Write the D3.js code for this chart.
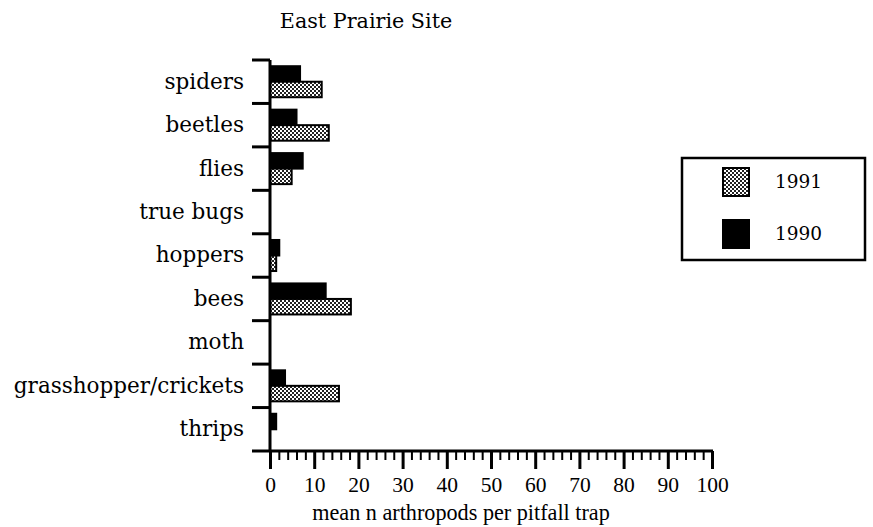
<!DOCTYPE html>
<html>
<head>
<meta charset="utf-8">
<script src="https://cdn.jsdelivr.net/npm/d3@7"></script>
<style>
  html, body { margin: 0; padding: 0; background: #fff; }
  svg { display: block; }
  text { font-family: "DejaVu Serif", "Liberation Serif", serif; fill: #000; }
</style>
</head>
<body>
<script>
// ---- data ----
const categories = ["spiders", "beetles", "flies", "true bugs", "hoppers", "bees", "moth", "grasshopper/crickets", "thrips"];
const seriesNames = ["1990", "1991"];
const values1990 = [6.8, 6.0, 7.4, 0, 2.1, 12.6, 0, 3.4, 1.4];
const values1991 = [11.7, 13.3, 4.9, 0, 1.4, 18.3, 0, 15.6, 0];
const majorTicks = [0, 10, 20, 30, 40, 50, 60, 70, 80, 90, 100];
const legendOrder = ["1991", "1990"];
const titleText = "East Prairie Site";
const xTitle = "mean n arthropods per pitfall trap";

const W = 873, H = 527;
const svg = d3.select("body").append("svg").attr("width", W).attr("height", H);

const defs = svg.append("defs");
const pat = defs.append("pattern").attr("id", "stipple")
  .attr("patternUnits", "userSpaceOnUse").attr("width", 4).attr("height", 4);
pat.append("rect").attr("width", 4).attr("height", 4).attr("fill", "#fff");
pat.append("rect").attr("x", 0).attr("y", 0).attr("width", 2).attr("height", 2).attr("fill", "#222");
pat.append("rect").attr("x", 2).attr("y", 2).attr("width", 2).attr("height", 2).attr("fill", "#222");

const fillFor = s => s === "1991" ? "url(#stipple)" : "#000";

const x = d3.scaleLinear().domain([0, 100]).range([270, 712]);
const y = d3.scaleBand().domain(categories).range([60, 451]).padding(0);
const ySub = d3.scaleBand().domain(seriesNames).range([0, y.bandwidth()]).paddingInner(0).paddingOuter(0.4);

// title
svg.append("text").attr("x", 366).attr("y", 28).attr("text-anchor", "middle")
  .style("font-size", "20.7px").text(titleText);

// bars
const rows = categories.map((c, i) => ({ c, v: { "1990": values1990[i], "1991": values1991[i] } }));
const g = svg.append("g");
rows.forEach(r => {
  seriesNames.forEach(s => {
    const v = r.v[s];
    if (v > 0) {
      g.append("rect")
        .attr("x", x(0))
        .attr("y", y(r.c) + ySub(s))
        .attr("width", x(v) - x(0))
        .attr("height", ySub.bandwidth())
        .attr("fill", fillFor(s))
        .attr("stroke", "#000").attr("stroke-width", 2);
    }
  });
});

// y axis: labels centered in bands
const yAxis = d3.axisLeft(y).tickSize(0).tickPadding(26);
const ya = svg.append("g").attr("transform", `translate(${x(0)},0)`).call(yAxis);
ya.select(".domain").remove();
ya.selectAll("text").style("font-size", "21.5px").attr("font-family", null);

// band boundary ticks
svg.append("g").selectAll("line").data(categories).join("line")
  .attr("x1", 252).attr("x2", x(0))
  .attr("y1", d => y(d)).attr("y2", d => y(d))
  .attr("stroke", "#000").attr("stroke-width", 3);

// vertical axis line
svg.append("line").attr("x1", x(0)).attr("x2", x(0)).attr("y1", y.range()[0]).attr("y2", y.range()[1])
  .attr("stroke", "#000").attr("stroke-width", 3);

// x axis
const xBase = y.range()[1];
const minor = d3.range(0, 101, 2).filter(v => v % 10 !== 0);
svg.append("g").attr("transform", `translate(0,${xBase})`)
  .call(d3.axisBottom(x).tickValues(minor).tickSize(9).tickFormat(""))
  .call(a => a.select(".domain").remove())
  .call(a => a.selectAll("line").attr("stroke-width", 2));
const xa = svg.append("g").attr("transform", `translate(0,${xBase})`)
  .call(d3.axisBottom(x).tickValues(majorTicks).tickSize(18).tickFormat(d3.format("d")));
xa.select(".domain").remove();
xa.selectAll("line").attr("stroke-width", 3);
xa.selectAll("text").attr("y", 41).attr("dy", 0).attr("font-family", null)
  .style("font-family", '"Liberation Serif", serif').style("font-size", "21.5px");
svg.append("line").attr("x1", 252).attr("x2", x(100) + 1).attr("y1", xBase).attr("y2", xBase)
  .attr("stroke", "#000").attr("stroke-width", 3);

svg.append("text").attr("x", 461).attr("y", 520).attr("text-anchor", "middle")
  .style("font-family", '"Liberation Serif", serif').style("font-size", "22.2px").text(xTitle);

// legend
const lg = svg.append("g");
lg.append("rect").attr("x", 682).attr("y", 158).attr("width", 183).attr("height", 102)
  .attr("fill", "#fff").attr("stroke", "#000").attr("stroke-width", 2.5);
const ly = d3.scaleBand().domain(legendOrder).range([156, 260]).padding(0);
legendOrder.forEach(s => {
  const cy = ly(s) + ly.bandwidth() / 2;
  lg.append("rect").attr("x", 723).attr("y", cy - 14)
    .attr("width", 26).attr("height", 28).attr("fill", fillFor(s))
    .attr("stroke", "#000").attr("stroke-width", 2);
  lg.append("text").attr("x", 775).attr("y", cy + 6)
    .style("font-size", "18.5px").text(s);
});
</script>
</body>
</html>
